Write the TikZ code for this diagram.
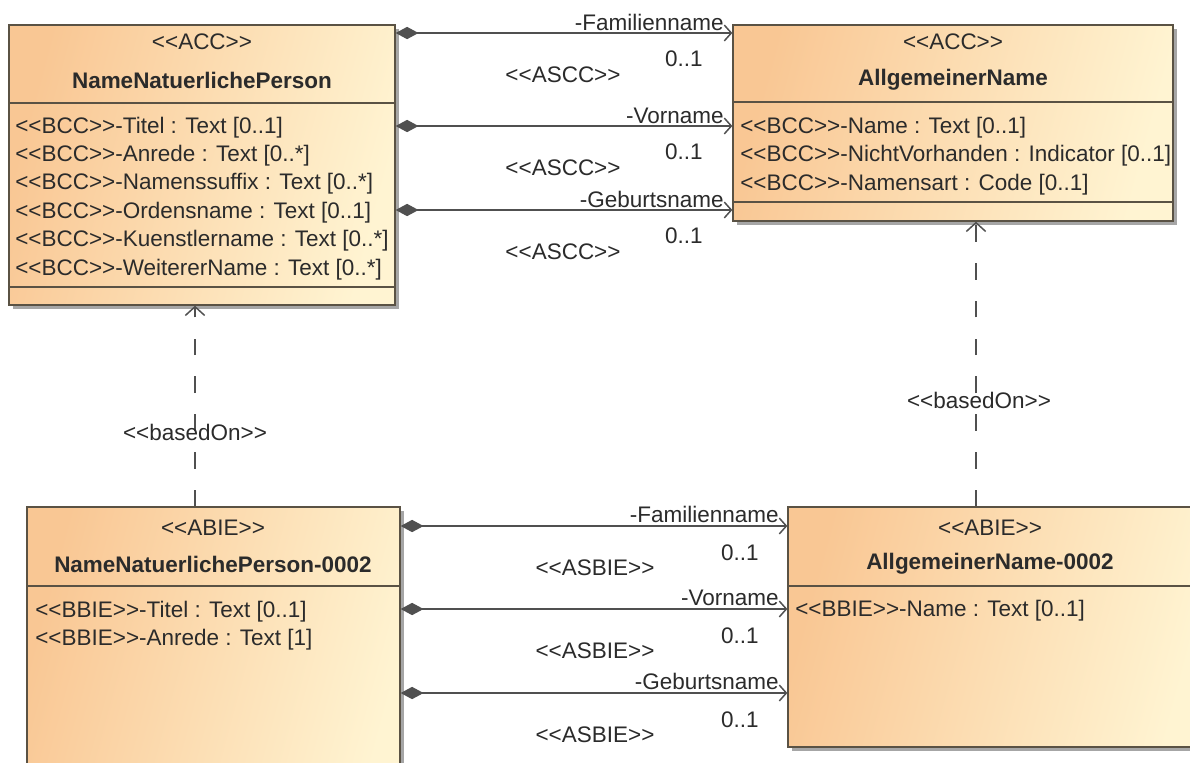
\documentclass[tikz,border=0pt]{standalone}
\usepackage{fontspec}
\setmainfont{Liberation Sans}[Ligatures=TeXOff]
\usetikzlibrary{arrows.meta,calc,shadows}
\definecolor{ink}{HTML}{2B2B2B}
\definecolor{frame}{HTML}{5A5244}
\definecolor{wire}{HTML}{505050}
\definecolor{headorange}{HTML}{F9C794}
\definecolor{paleyellow}{HTML}{FFF4D2}
\tikzset{
  every node/.style={font=\fontsize{12.8}{15.9}\selectfont,text=ink,inner sep=0pt},
  classbox/.style={draw=frame,line width=0.8pt,top color=headorange,bottom color=paleyellow,shading angle=75,
    drop shadow={shadow xshift=2.5pt,shadow yshift=-2.5pt,opacity=0.35,fill=black}},
  compline/.style={draw=frame,line width=0.8pt},
  classname/.style={font=\fontsize{12.8}{15.9}\selectfont\bfseries},
  attr/.style={anchor=base west},
  composite/.style={{Diamond[length=13pt,width=7pt]}-{Straight Barb[length=4pt,width=9pt]},draw=wire,line width=0.85pt},
  realize/.style={-{Straight Barb[length=5pt,width=11pt]},draw=wire,line width=0.85pt,dash pattern=on 9.5pt off 12pt},
}

\begin{document}
\begin{tikzpicture}[x=0.02cm,y=-0.02cm]
  \path[use as bounding box,clip] (0,0) rectangle (1190,762);
  \fill[white] (0,0) rectangle (1190,762);

  \node[classbox,minimum width=7.72cm,minimum height=5.6cm] (accPerson) at (202,165) {};
  \node[classbox,minimum width=8.8cm,minimum height=3.92cm] (accName) at (953,123) {};
  \node[classbox,minimum width=7.46cm,minimum height=6.26cm] (abiePerson) at (213.5,663.5) {};
  \node[classbox,minimum width=8.44cm,minimum height=4.8cm] (abieName) at (999,627) {};

  \draw[compline] (accPerson.west |- 0,103) -- (accPerson.east |- 0,103);
  \draw[compline] (accPerson.west |- 0,287) -- (accPerson.east |- 0,287);
  \draw[compline] (accName.west |- 0,102) -- (accName.east |- 0,102);
  \draw[compline] (accName.west |- 0,202) -- (accName.east |- 0,202);
  \draw[compline] (abiePerson.west |- 0,586) -- (abiePerson.east |- 0,586);
  \draw[compline] (abieName.west |- 0,586) -- (abieName.east |- 0,586);

  \node (accPersonSt) at (202,42) {<<ACC>>};
  \node[classname] (accPersonNm) at (202,80) {NameNatuerlichePerson};
  \node (accNameSt) at (953,42) {<<ACC>>};
  \node[classname] (accNameNm) at (953,80) {AllgemeinerName};
  \node (abiePersonSt) at (213,528) {<<ABIE>>};
  \node[classname] (abiePersonNm) at (213,564) {NameNatuerlichePerson-0002};
  \node (abieNameSt) at (990,528) {<<ABIE>>};
  \node[classname] (abieNameNm) at (990,564) {AllgemeinerName-0002};

  \foreach \txt [count=\i] in {<<BCC>>-Titel : Text [0..1], <<BCC>>-Anrede : Text [0..*],
      <<BCC>>-Namenssuffix : Text [0..*], <<BCC>>-Ordensname : Text [0..1],
      <<BCC>>-Kuenstlername : Text [0..*], <<BCC>>-WeitererName : Text [0..*]}
    \node[attr] (accPersonAt\i) at (15,133+28.4*\i-28.4) {\txt};
  \foreach \txt [count=\i] in {<<BCC>>-Name : Text [0..1], <<BCC>>-NichtVorhanden : Indicator [0..1],
      <<BCC>>-Namensart : Code [0..1]}
    \node[attr] (accNameAt\i) at (740,133+28.5*\i-28.5) {\txt};
  \foreach \txt [count=\i] in {<<BBIE>>-Titel : Text [0..1], <<BBIE>>-Anrede : Text [1]}
    \node[attr] (abiePersonAt\i) at (35,617+28*\i-28) {\txt};
  \node[attr] (abieNameAt1) at (795,616) {<<BBIE>>-Name : Text [0..1]};

  \foreach \role/\yy [count=\i] in {Familienname/33, Vorname/126, Geburtsname/210} {
    \draw[composite] (accPerson.east |- 0,\yy) -- (accName.west |- 0,\yy);
    \node[anchor=base east] (asccRole\i) at (724,\yy-3) {-\role};
    \node[anchor=east] (asccMult\i) at (703,\yy+26) {0..1};
    \node (asccSt\i) at (563,\yy+42) {<<ASCC>>};
  }
  \foreach \role/\yy [count=\i] in {Familienname/526, Vorname/609, Geburtsname/693} {
    \draw[composite] (abiePerson.east |- 0,\yy) -- (abieName.west |- 0,\yy);
    \node[anchor=base east] (asbieRole\i) at (779,\yy-4) {-\role};
    \node[anchor=east] (asbieMult\i) at (759,\yy+27) {0..1};
    \node (asbieSt\i) at (595,\yy+42) {<<ASBIE>>};
  }

  \coordinate (basedL) at (195,0);
  \coordinate (basedR) at (976,0);
  \draw[realize] (abiePerson.north -| basedL) -- (accPerson.south -| basedL);
  \draw[realize] (abieName.north -| basedR) -- (accName.south -| basedR);
  \node (basedOnL) at (195,432) {<<basedOn>>};
  \node (basedOnR) at (979,400) {<<basedOn>>};
\end{tikzpicture}
\end{document}
